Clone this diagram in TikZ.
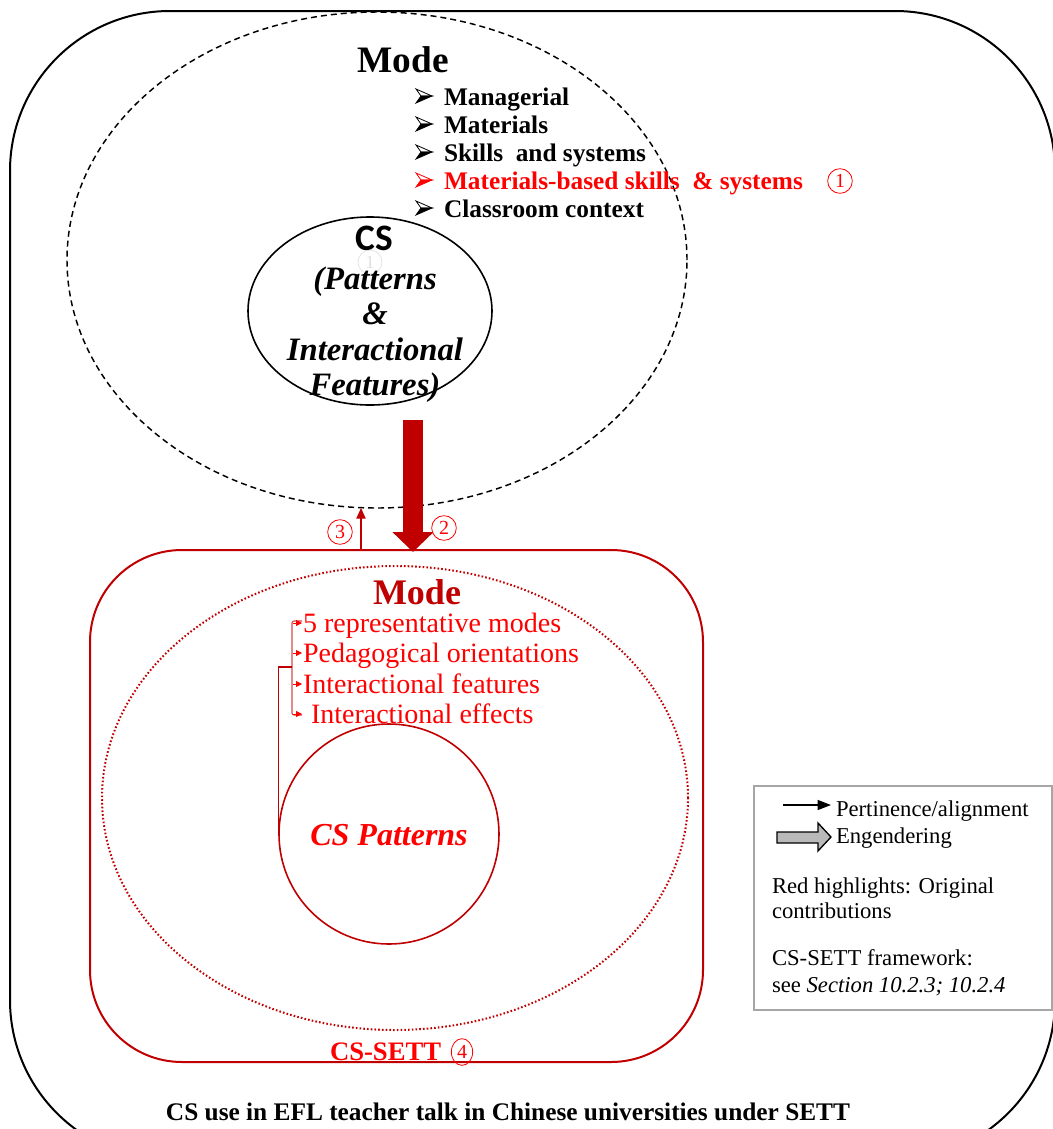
\documentclass[tikz,border=0pt]{standalone}
\usepackage{fontspec}
\setmainfont{Liberation Serif}
\newfontfamily\calibri{Carlito}
\usetikzlibrary{shapes.geometric,arrows.meta}
\definecolor{dred}{HTML}{C00000}
\definecolor{bred}{HTML}{FF0000}
\definecolor{lgray}{HTML}{A6A6A6}
\begin{document}
\begin{tikzpicture}[x=0.75pt,y=-0.75pt,
  txt/.style={inner sep=0pt,outer sep=0pt},
  lbl/.style={txt,anchor=base west},
  ctr/.style={txt,anchor=base},
  topitem/.style={lbl,font=\fontsize{19}{19}\bfseries\selectfont},
  redditem/.style={lbl,text=bred,font=\fontsize{21}{21}\selectfont},
  legtxt/.style={lbl,font=\fontsize{17}{17}\selectfont},
  num/.style={circle,draw=bred,line width=0.6pt,inner sep=0pt,minimum size=18.5pt,text=bred,font=\fontsize{15}{15}\selectfont},
  marker/.style={bred,line width=0.6pt,-{Triangle[width=4.5pt,length=4.5pt]}},
  arrbullet/.pic={
    \filldraw[fill=white,line width=0.6pt,line join=miter] (8,0) -- (-8,-7) -- (-3,0) -- cycle;
    \filldraw[line width=0.6pt,line join=miter] (8,0) -- (-3,0) -- (-8,7) -- cycle;
  }]
\useasboundingbox (0,0) rectangle (1053,1129);

% outer frame
\draw[line width=1.5pt,rounded corners=120pt] (10,11) rectangle (1055,1160);

% upper dashed ellipse and CS ellipse
\node[ellipse,draw,line width=1.1pt,dash pattern=on 4.5pt off 3pt,inner sep=0pt,minimum width=465pt,minimum height=372pt] (modeE) at (377,260) {};
\node[ellipse,draw,line width=1.2pt,inner sep=0pt,minimum width=183pt,minimum height=141pt] (cs) at (370,311) {};

\node[ctr,font=\fontsize{28}{28}\bfseries\selectfont] (modeT) at (403,72) {Mode};
\foreach \y/\t [count=\i] in {105/Managerial,133/Materials,161/Skills\ \ and systems,217/Classroom context}{
  \pic at (424,\y-9) {arrbullet};
  \node[topitem] (m\i) at (444,\y) {\t};
}
\pic[color=bred] at (424,180) {arrbullet};
\node[topitem,text=bred] (m5) at (444,189) {Materials-based skills\ \ \& systems};
\node[num] (n1) at (840,181) {1};

\node[ctr,font=\fontsize{28}{28}\calibri\bfseries\selectfont] (csT) at (374,250) {CS};
\node[circle,draw=gray!25,line width=0.5pt,inner sep=0pt,minimum size=18pt,text=gray!25,font=\fontsize{14}{14}\selectfont] (n1f) at (370,262) {1};
\foreach \y/\t [count=\i] in {289/(Patterns,324/\&,360/Interactional,395/Features)}{
  \node[ctr,font=\fontsize{24.5}{24.5}\bfseries\itshape\selectfont] (p\i) at (375,\y) {\t};
}

% arrows between the two parts
\coordinate (a2s) at (413,420);
\coordinate (a2e) at (413,552);
\draw[dred,line width=15pt,-{Triangle[width=30pt,length=15pt]}] (a2s) -- (a2e);
\node[num] (n2) at (444,528) {2};
\coordinate (a3s) at (361,550);
\coordinate (a3e) at (361,508);
\draw[dred,line width=0.8pt,-{Triangle[width=7pt,length=8pt]}] (a3s) -- (a3e);
\node[num] (n3) at (340,532) {3};

% lower red frame
\node[draw=dred,line width=1.5pt,rounded corners=69pt,inner sep=0pt,minimum width=459.75pt,minimum height=384pt] (sett) at (396.5,806) {};
\node[ellipse,draw=dred,line width=1.5pt,dash pattern=on 1.2pt off 1.6pt,inner sep=0pt,minimum width=439.5pt,minimum height=348pt] (modeR) at (395,798) {};
\node[circle,draw=dred,line width=1.2pt,inner sep=0pt,minimum size=165pt] (csp) at (389,834) {};
\node[ctr,text=bred,font=\fontsize{24}{24}\bfseries\itshape\selectfont] (cspT) at (389,845) {CS Patterns};

\node[ctr,text=dred,font=\fontsize{27}{27}\bfseries\selectfont] (modeRT) at (417,604) {Mode};
\node[redditem] (r1) at (303,632) {5 representative modes};
\node[redditem] (r2) at (303,662) {Pedagogical orientations};
\node[redditem] (r3) at (303,693) {Interactional features};
\node[redditem] (r4) at (311,723) {Interactional effects};
\coordinate (bt) at (292,621);
\coordinate (bb) at (292,715);
\coordinate (btr) at (302,621);
\coordinate (bbr) at (302,715);
\coordinate (brk) at (292,667);
\draw[dred!70,line width=0.8pt,rounded corners=1.5pt] (btr) -- (bt) -- (bb) -- (bbr);
\foreach \y in {623,653,684,714}{ \draw[marker] (293,\y) -- (302,\y); }
\draw[dred,line width=0.8pt] (csp.west) |- (brk);

\node[lbl,text=bred,font=\fontsize{20}{20}\bfseries\selectfont] (settT) at (330,1060) {CS-SETT};
\node[num,minimum size=16pt,ellipse,minimum height=20pt] (n4) at (462,1052) {4};

% bottom caption
\node[ctr,font=\fontsize{19}{19}\bfseries\selectfont] (cap) at (508,1120) {CS use in EFL teacher talk in Chinese universities under SETT};

% legend
\node[draw=lgray,line width=1.5pt,inner sep=0pt,minimum width=223.5pt,minimum height=168pt] (legend) at (903,898) {};
\coordinate (l1s) at (783,805);
\coordinate (l1e) at (831,805);
\draw[line width=0.8pt,-{Triangle[width=7.5pt,length=10pt]}] (l1s) -- (l1e);
\node[legtxt] (lg1) at (836,816) {Pertinence/alignment};
\draw[fill=gray!55,line width=1pt] (777,832) -- (818,832) -- (818,823) -- (831,837) -- (818,851) -- (818,843) -- (777,843) -- cycle;
\node[legtxt] (lg2) at (836,843) {Engendering};
\node[legtxt] (lg3) at (772,893) {Red highlights: Original};
\node[legtxt] (lg4) at (772,918) {contributions};
\node[legtxt] (lg5) at (772,965) {CS-SETT framework:};
\node[legtxt] (lg6) at (772,992) {see \textit{Section 10.2.3; 10.2.4}};
\end{tikzpicture}
\end{document}
